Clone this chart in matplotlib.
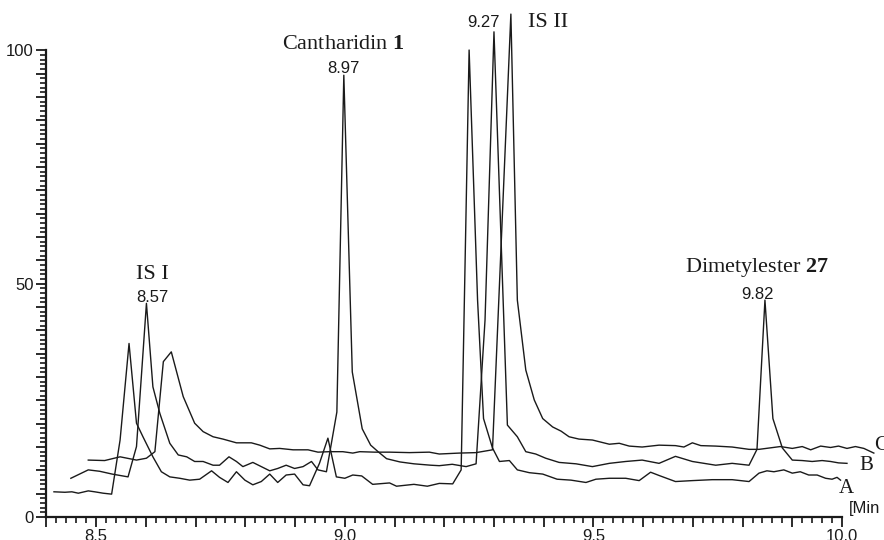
import matplotlib.pyplot as plt
from matplotlib.ticker import MultipleLocator, FuncFormatter

# retention time [min] and relative intensity for the three runs A, B, C
t_a = [8.415, 8.437, 8.451, 8.464, 8.484, 8.497, 8.514, 8.531, 8.548, 8.566,
       8.581, 8.594, 8.614, 8.631, 8.648, 8.668, 8.688, 8.708, 8.732, 8.748,
       8.765, 8.782, 8.799, 8.815, 8.832, 8.849, 8.865, 8.882, 8.899, 8.916,
       8.929, 8.949, 8.966, 8.983, 9.000, 9.016, 9.034, 9.056, 9.090, 9.104,
       9.139, 9.166, 9.190, 9.217, 9.234, 9.250, 9.267, 9.279, 9.297, 9.311,
       9.331, 9.347, 9.371, 9.398, 9.427, 9.455, 9.485, 9.505, 9.532, 9.565,
       9.592, 9.615, 9.632, 9.665, 9.699, 9.739, 9.779, 9.813, 9.833, 9.849,
       9.863, 9.883, 9.900, 9.916, 9.933, 9.950, 9.967, 9.980, 9.990, 9.997]
i_a = [5.4, 5.3, 5.4, 5.1, 5.6, 5.4, 5.1, 4.9, 16.5, 37.2,
       20.1, 17.2, 12.9, 9.7, 8.6, 8.3, 7.9, 8.1, 9.9, 8.5,
       7.4, 9.7, 7.9, 6.9, 7.6, 9.2, 7.4, 9.0, 9.2, 6.9,
       6.7, 11.5, 16.9, 8.6, 8.3, 9.0, 8.8, 7.0, 7.3, 6.6,
       7.0, 6.6, 7.2, 7.1, 10.1, 100.1, 46.5, 21.1, 14.8, 11.9,
       12.1, 10.1, 9.5, 9.2, 8.1, 7.9, 7.4, 8.1, 8.3, 8.3,
       7.8, 9.6, 8.9, 7.6, 7.8, 8.0, 8.0, 7.6, 9.4, 9.9,
       9.7, 10.1, 9.4, 9.7, 9.0, 9.0, 8.3, 8.1, 8.5, 7.9]

t_b = [8.449, 8.484, 8.507, 8.532, 8.548, 8.564, 8.581, 8.601, 8.614, 8.628,
       8.648, 8.665, 8.682, 8.698, 8.715, 8.735, 8.748, 8.767, 8.782, 8.795,
       8.815, 8.832, 8.849, 8.865, 8.882, 8.899, 8.916, 8.933, 8.946, 8.963,
       8.984, 8.998, 9.015, 9.035, 9.052, 9.068, 9.084, 9.111, 9.139, 9.173,
       9.190, 9.216, 9.244, 9.264, 9.282, 9.300, 9.327, 9.347, 9.364, 9.384,
       9.404, 9.431, 9.465, 9.498, 9.532, 9.565, 9.598, 9.632, 9.665, 9.699,
       9.746, 9.779, 9.813, 9.829, 9.845, 9.861, 9.880, 9.900, 9.920, 9.940,
       9.960, 9.977, 9.993, 10.010]
i_b = [8.3, 10.1, 9.8, 9.2, 8.9, 8.6, 15.1, 45.8, 27.9, 22.2,
       15.8, 13.3, 12.9, 11.9, 11.9, 11.1, 11.1, 12.9, 11.9, 10.8,
       11.7, 10.8, 9.9, 10.4, 11.1, 10.4, 10.8, 11.9, 10.1, 9.7,
       22.5, 94.7, 31.1, 18.9, 15.4, 13.9, 12.5, 11.8, 11.4, 11.1,
       11.0, 11.3, 10.8, 11.4, 42.2, 104.0, 19.7, 17.2, 14.0, 13.5,
       12.6, 11.7, 11.4, 10.8, 11.5, 11.9, 12.2, 11.5, 13.0, 11.9,
       11.1, 11.5, 11.1, 14.5, 46.5, 21.1, 14.8, 12.2, 12.1, 11.9,
       12.1, 11.9, 11.6, 11.5]

t_c = [8.484, 8.517, 8.548, 8.581, 8.601, 8.618, 8.635, 8.651, 8.675, 8.698,
       8.715, 8.735, 8.755, 8.782, 8.812, 8.829, 8.849, 8.869, 8.896, 8.926,
       8.946, 8.969, 8.996, 9.016, 9.030, 9.060, 9.090, 9.130, 9.170, 9.190,
       9.230, 9.264, 9.297, 9.334, 9.347, 9.364, 9.381, 9.398, 9.418, 9.435,
       9.451, 9.471, 9.498, 9.532, 9.552, 9.572, 9.598, 9.632, 9.665, 9.682,
       9.699, 9.716, 9.746, 9.779, 9.813, 9.833, 9.876, 9.900, 9.920, 9.937,
       9.957, 9.977, 9.993, 10.010, 10.027, 10.044, 10.064]
i_c = [12.2, 12.1, 12.9, 12.2, 12.6, 14.0, 33.3, 35.4, 25.8, 20.1,
       18.3, 17.2, 16.7, 15.9, 15.9, 15.4, 14.6, 14.7, 14.4, 14.4,
       13.9, 14.0, 14.0, 13.7, 14.0, 13.9, 13.9, 13.8, 13.9, 13.5,
       13.7, 13.8, 14.4, 107.8, 46.5, 31.5, 25.1, 21.1, 19.3, 18.4,
       17.2, 16.7, 16.5, 15.6, 15.8, 15.2, 15.0, 15.4, 15.3, 15.0,
       15.9, 15.3, 15.2, 15.0, 14.5, 14.5, 15.1, 14.7, 15.1, 14.4,
       15.2, 14.9, 15.2, 14.7, 15.1, 14.7, 13.7]

# peak annotations: (name, retention time label, x, y of name, y of time)
peaks = [
    (r"IS I", "8.57", 8.612, 52.0, 47.1),
    (r"Cantharidin $\mathbf{1}$", "8.97", 8.997, 101.2, 96.2),
    (r"Dimetylester $\mathbf{27}$", "9.82", 9.83, 53.4, 47.6),
]

plt.rcParams['mathtext.fontset'] = 'custom'
plt.rcParams['mathtext.rm'] = 'Liberation Serif'
plt.rcParams['mathtext.bf'] = 'Liberation Serif:bold'

serif = 'Liberation Serif'
sans = 'Liberation Sans'
ink = '#1a1a1a'

fig = plt.figure(figsize=(8.84, 5.4), dpi=100)
ax = fig.add_axes([0.0526, 0.0426, 0.8999, 0.8639])

for t, i in [(t_a, i_a), (t_b, i_b), (t_c, i_c)]:
    ax.plot(t, i, color=ink, lw=1.0, clip_on=False)

ax.set_xlim(8.4, 10.0)
ax.set_ylim(0, 100)

for side in ['top', 'right']:
    ax.spines[side].set_visible(False)
for side in ['left', 'bottom']:
    ax.spines[side].set_linewidth(1.6)
    ax.spines[side].set_color(ink)

ax.xaxis.set_major_locator(MultipleLocator(0.1))
ax.xaxis.set_minor_locator(MultipleLocator(0.02))
ax.yaxis.set_major_locator(MultipleLocator(5))
ax.yaxis.set_minor_locator(MultipleLocator(1))


def xfmt(v, pos):
    return "%.1f" % v if abs(v * 2 - round(v * 2)) < 1e-6 else ""


def yfmt(v, pos):
    return "%d" % v if int(round(v)) % 50 == 0 else ""


ax.xaxis.set_major_formatter(FuncFormatter(xfmt))
ax.yaxis.set_major_formatter(FuncFormatter(yfmt))
ax.tick_params(which='major', direction='out', length=7, width=1.3, color=ink,
               labelsize=12, labelcolor=ink)
ax.tick_params(which='minor', direction='out', length=4.5, width=1.2, color=ink)
ax.tick_params(axis='x', which='major', pad=2)
ax.tick_params(axis='y', which='major', pad=2)
for lab in ax.get_xticklabels() + ax.get_yticklabels():
    lab.set_fontfamily(sans)

for name, rt, x, yn, yt in peaks:
    ax.text(x, yn, name, family=serif, fontsize=16, ha='center', va='center',
            color=ink)
    ax.text(x + 0.0, yt, rt, family=sans, fontsize=12, ha='center',
            va='center', color=ink)

ax.text(9.279, 106.1, "9.27", family=sans, fontsize=12, ha='center',
        va='center', color=ink, clip_on=False)
ax.text(9.409, 106.1, "IS II", family=serif, fontsize=16, ha='center',
        va='center', color=ink, clip_on=False)

# trace names at the right end
ax.text(10.065, 15.4, "C", family=serif, fontsize=15, ha='left', va='center',
        color=ink)
ax.text(10.034, 11.1, "B", family=serif, fontsize=15, ha='left', va='center',
        color=ink)
ax.text(9.993, 6.1, "A", family=serif, fontsize=15, ha='left', va='center',
        color=ink)
ax.text(10.013, 1.9, "[Min", family=sans, fontsize=12, ha='left',
        va='center', color=ink)

fig.savefig('out.png', dpi=100)
